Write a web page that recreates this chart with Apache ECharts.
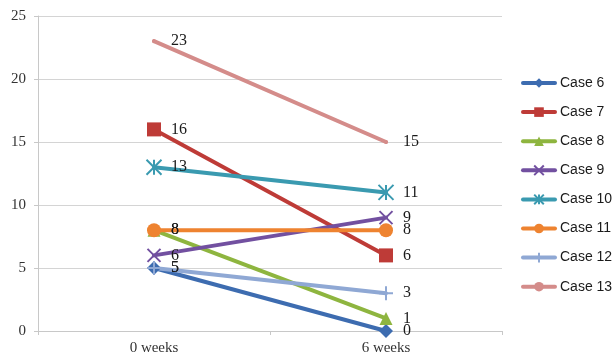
<!DOCTYPE html>
<html>
<head>
<meta charset="utf-8">
<style>
  html, body { margin: 0; padding: 0; background: #fff; }
  #chart { width: 615px; height: 358px; }
</style>
<script src="https://cdn.jsdelivr.net/npm/echarts@6/dist/echarts.min.js"></script>
</head>
<body>
<div id="chart"></div>
<script>
// Time points
const categories = ['0 weeks', '6 weeks'];

// Scores per case at each time point
const case6 = [5, 0];
const case7 = [16, 6];
const case8 = [8, 1];
const case9 = [6, 9];
const case10 = [13, 11];
const case11 = [8, 8];
const case12 = [5, 3];
const case13 = [23, 15];

const seriesNames = ['Case 6', 'Case 7', 'Case 8', 'Case 9', 'Case 10', 'Case 11', 'Case 12', 'Case 13'];
const seriesData = [case6, case7, case8, case9, case10, case11, case12, case13];

const colors = ['#3D6CB0', '#BE3B37', '#8EB53F', '#7250A0', '#3A9AB0', '#EE8330', '#8FA8D4', '#D48C8A'];

// stroke-only marker shapes
const crossPath = 'path://M0,0 L10,10 M10,0 L0,10';
const plusPath = 'path://M5,0 L5,10 M0,5 L10,5';
const starPath = 'path://M0,0 L10,10 M10,0 L0,10 M5,0 L5,10';

const symbols = ['diamond', 'rect', 'triangle', crossPath, starPath, 'circle', plusPath, 'circle'];
const symbolSizes = [14, 14, 13, 13, 15, 14, 14, 4];

const serif = '"Liberation Serif", "DejaVu Serif", serif';

const chart = echarts.init(document.getElementById('chart'));

const series = seriesNames.map((name, i) => {
  const strokeOnly = symbols[i].startsWith('path://');
  return {
    name: name,
    type: 'line',
    data: seriesData[i],
    symbol: symbols[i],
    symbolSize: symbolSizes[i],
    showSymbol: true,
    lineStyle: { width: 4, color: colors[i], cap: 'round' },
    itemStyle: strokeOnly
      ? { color: 'transparent', borderColor: colors[i], borderWidth: 2 }
      : { color: colors[i] },
    label: {
      show: true,
      position: 'inside',
      align: 'left',
      verticalAlign: 'middle',
      offset: [17, 0],
      color: '#1a1a1a',
      fontFamily: serif,
      fontSize: 16
    },
    emphasis: { disabled: true },
    animation: false
  };
});

chart.setOption({
  color: colors,
  animation: false,
  grid: { left: 38, right: 113, top: 16, bottom: 27, containLabel: false },
  legend: {
    orient: 'vertical',
    left: 521,
    top: 76,
    padding: 0,
    itemWidth: 32,
    itemHeight: 12,
    itemGap: 15.1,
    lineStyle: { width: 4 },
    textStyle: { fontFamily: '"Liberation Sans", sans-serif', fontSize: 14, color: '#1a1a1a' },
    data: seriesNames
  },
  xAxis: {
    type: 'category',
    data: categories,
    boundaryGap: true,
    axisLine: { lineStyle: { color: '#C8C8C8', width: 1 } },
    axisTick: { show: true, length: 4, lineStyle: { color: '#C8C8C8' } },
    axisLabel: { fontFamily: serif, fontSize: 15, color: '#333', margin: 10 }
  },
  yAxis: {
    type: 'value',
    min: 0,
    max: 25,
    interval: 5,
    axisLine: { show: true, lineStyle: { color: '#C8C8C8', width: 1 } },
    axisTick: { show: true, length: 4, lineStyle: { color: '#C8C8C8' } },
    axisLabel: { fontFamily: serif, fontSize: 15, color: '#333', margin: 12 },
    splitLine: { lineStyle: { color: '#D4D4D4', width: 1 } }
  },
  series: series
});
</script>
</body>
</html>
